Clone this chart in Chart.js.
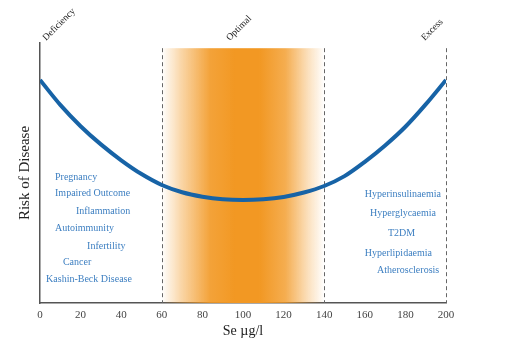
<!DOCTYPE html>
<html>
<head>
<meta charset="utf-8">
<script src="https://cdn.jsdelivr.net/npm/chart.js@4.4.1/dist/chart.umd.min.js"></script>
<style>
  html, body { margin: 0; padding: 0; background: #fff; }
  #wrap { width: 507px; height: 353px; }
</style>
</head>
<body>
<div id="wrap"><canvas id="grafico"></canvas></div>
<script>
// Dados (Se em µg/l, risco em escala relativa 0-100)
const selenio = [0, 10, 20, 30, 40, 50, 60, 70, 80, 90, 100, 110, 120, 130, 140, 150, 160, 170, 180, 190, 200];
const risco = [85.8, 76.2, 68.0, 61.0, 54.9, 49.6, 45.4, 42.6, 40.9, 39.9, 39.6, 39.9, 40.8, 42.5, 45.0, 48.8, 54.3, 60.6, 67.8, 76.4, 85.8];
const xTicks = [0, 20, 40, 60, 80, 100, 120, 140, 160, 180, 200];

// Faixas e marcadores
const zonas = ['Deficiency', 'Optimal', 'Excess'];
const zonaPos = [1.5, 92, 188];
const limites = [60, 140, 200];
const faixaOtima = [60, 140];

// Doenças associadas
const deficiencia = ['Pregnancy', 'Impaired Outcome', 'Inflammation', 'Autoimmunity', 'Infertility', 'Cancer', 'Kashin-Beck Disease'];
const excesso = ['Hyperinsulinaemia', 'Hyperglycaemia', 'T2DM', 'Hyperlipidaemia', 'Atherosclerosis'];

// Posição dos textos (em unidades dos eixos)
const posDeficiencia = [[7.4, 48.5], [7.4, 42.3], [17.7, 35.4], [7.4, 28.8], [23.2, 21.9], [11.3, 15.8], [3, 9.2]];
const posExcesso = [[160, 41.9], [162.6, 34.6], [171.4, 26.9], [160, 19.2], [166, 12.7]];

const serif = '"Liberation Serif", "DejaVu Serif", serif';

const anotacoes = {
    id: 'anotacoes',
    beforeDatasetsDraw(chart) {
        const { ctx, scales: { x, y } } = chart;
        const topo = y.getPixelForValue(98);
        const base = y.getPixelForValue(0);
        const x1 = x.getPixelForValue(faixaOtima[0]);
        const x2 = x.getPixelForValue(faixaOtima[1]);
        ctx.save();
        // Faixa ótima em degradê laranja
        const grad = ctx.createLinearGradient(x1, 0, x2, 0);
        grad.addColorStop(0, 'rgba(242,152,35,0)');
        grad.addColorStop(0.12, 'rgba(242,152,35,0.4)');
        grad.addColorStop(0.3, 'rgba(242,152,35,0.9)');
        grad.addColorStop(0.45, 'rgba(242,152,35,1)');
        grad.addColorStop(0.6, 'rgba(242,152,35,1)');
        grad.addColorStop(0.76, 'rgba(242,152,35,0.8)');
        grad.addColorStop(0.9, 'rgba(242,152,35,0.3)');
        grad.addColorStop(1, 'rgba(242,152,35,0)');
        ctx.fillStyle = grad;
        ctx.fillRect(x1, topo, x2 - x1, base - topo);
        // Linhas tracejadas
        ctx.strokeStyle = '#666';
        ctx.lineWidth = 1;
        ctx.setLineDash([4, 3]);
        limites.forEach(v => {
            const px = Math.round(x.getPixelForValue(v)) + 0.5;
            ctx.beginPath();
            ctx.moveTo(px, topo);
            ctx.lineTo(px, base);
            ctx.stroke();
        });
        ctx.restore();
    },
    afterDraw(chart) {
        const { ctx, scales: { x, y } } = chart;
        ctx.save();
        // Rótulos inclinados no topo
        ctx.fillStyle = '#222';
        ctx.font = '9.5px ' + serif;
        ctx.textBaseline = 'alphabetic';
        ctx.textAlign = 'left';
        zonas.forEach((txt, i) => {
            ctx.save();
            ctx.translate(x.getPixelForValue(zonaPos[i]) + 3, y.getPixelForValue(100) - 2);
            ctx.rotate(-Math.PI / 4);
            ctx.fillText(txt, 0, 0);
            ctx.restore();
        });
        // Doenças
        ctx.fillStyle = '#3d7fc1';
        ctx.font = '10px ' + serif;
        ctx.textBaseline = 'middle';
        deficiencia.forEach((txt, i) => {
            ctx.fillText(txt, x.getPixelForValue(posDeficiencia[i][0]), y.getPixelForValue(posDeficiencia[i][1]));
        });
        excesso.forEach((txt, i) => {
            ctx.fillText(txt, x.getPixelForValue(posExcesso[i][0]), y.getPixelForValue(posExcesso[i][1]));
        });
        ctx.restore();
    }
};

const ctx = document.getElementById('grafico').getContext('2d');
new Chart(ctx, {
    type: 'line',
    data: {
        labels: selenio,
        datasets: [{
            data: selenio.map((v, i) => ({ x: v, y: risco[i] })),
            borderColor: '#1763a6',
            borderWidth: 4,
            pointRadius: 0,
            cubicInterpolationMode: 'monotone',
            fill: false
        }]
    },
    options: {
        responsive: true,
        maintainAspectRatio: false,
        animation: false,
        layout: { padding: { top: 43, right: 61, left: 0, bottom: 0 } },
        plugins: {
            legend: { display: false },
            tooltip: { enabled: false }
        },
        scales: {
            x: {
                type: 'linear',
                min: 0,
                max: 200,
                afterBuildTicks: scale => { scale.ticks = xTicks.map(v => ({ value: v })); },
                afterFit: scale => { scale.height = 50; },
                grid: { display: false, drawTicks: false },
                border: { display: true, color: '#555', width: 1.5 },
                ticks: {
                    color: '#444',
                    padding: 6,
                    maxRotation: 0,
                    font: { family: serif, size: 11 }
                },
                title: {
                    display: true,
                    text: 'Se µg/l',
                    color: '#222',
                    padding: { top: 0, bottom: 13 },
                    font: { family: serif, size: 14 }
                }
            },
            y: {
                min: 0,
                max: 100,
                afterFit: scale => { scale.width = 40; },
                grid: { display: false, drawTicks: false },
                border: { display: true, color: '#555', width: 1.5 },
                ticks: { display: false },
                title: {
                    display: true,
                    text: 'Risk of Disease',
                    color: '#222',
                    padding: { top: 16, bottom: 0 },
                    font: { family: serif, size: 15 }
                }
            }
        }
    },
    plugins: [anotacoes]
});
</script>
</body>
</html>
